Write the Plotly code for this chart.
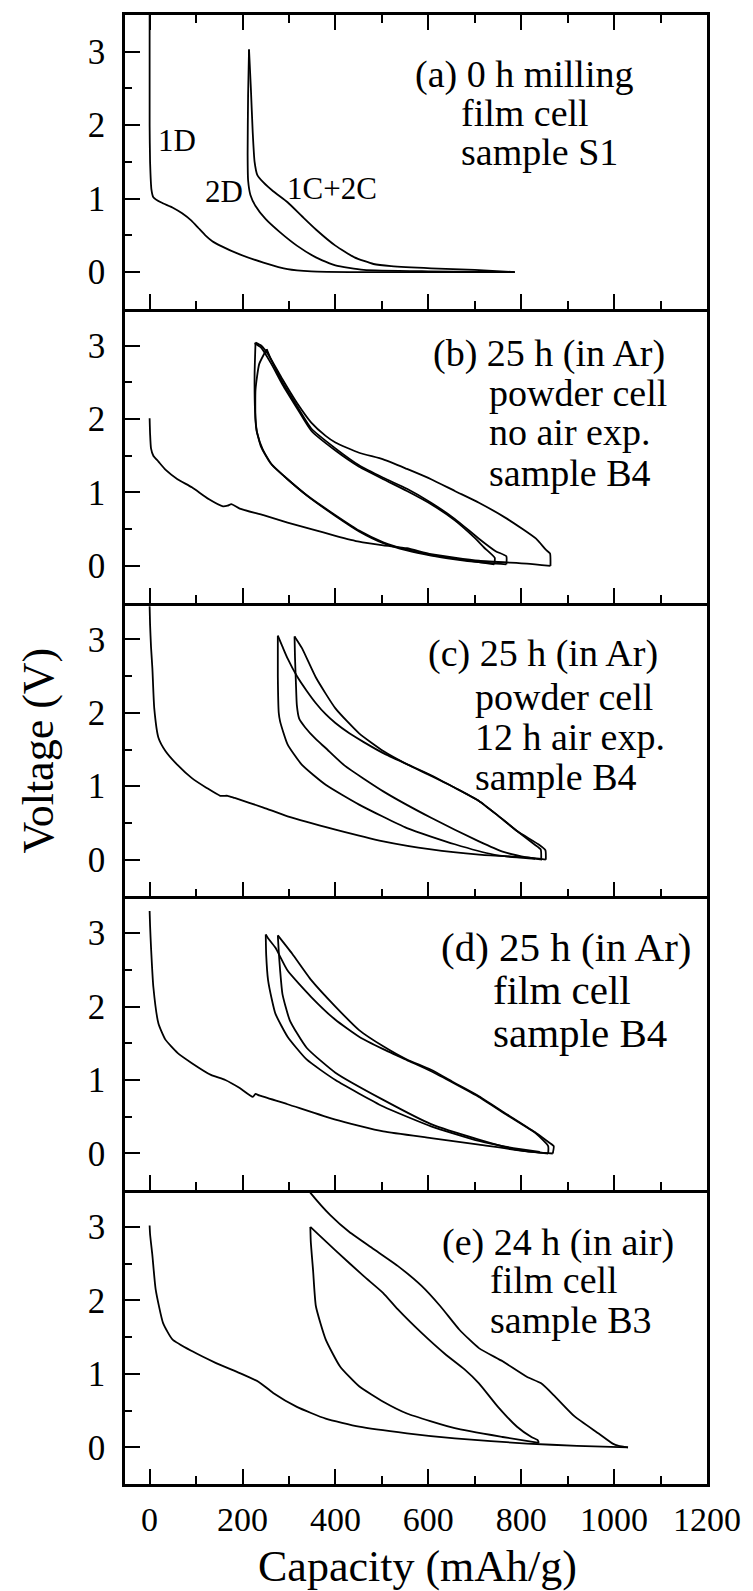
import plotly.graph_objects as go

# ---------------- data (capacity mAh/g, voltage V) ----------------
# panel (a)
a_1D_cap = [0, 0, 1, 4, 8, 24, 49, 70, 90, 105, 120, 135, 152, 194, 245, 297, 348, 450, 600, 786]
a_1D_v = [3.6, 2.0, 1.5, 1.12, 1.02, 0.95, 0.88, 0.8, 0.7, 0.6, 0.5, 0.42, 0.36, 0.24, 0.13, 0.04, 0.01, 0.0, 0.0, 0.0]
a_1C_cap = [786, 700, 606, 520, 482, 441, 400, 358, 328, 297, 266, 245, 232, 226, 222, 218, 214]
a_1C_v = [0.0, 0.03, 0.05, 0.08, 0.11, 0.2, 0.36, 0.58, 0.76, 0.95, 1.1, 1.22, 1.32, 1.5, 1.9, 2.5, 3.03]
a_2D_cap = [214, 212, 211, 212, 217, 228, 250, 281, 317, 358, 400, 461, 600, 786]
a_2D_v = [3.03, 2.4, 1.6, 1.25, 1.05, 0.9, 0.72, 0.54, 0.36, 0.2, 0.09, 0.03, 0.01, 0.0]

# panel (b)
b_1D_cap = [0, 1, 3, 8, 19, 34, 60, 91, 127, 158, 168, 176, 194, 245, 297, 348, 400, 451, 503, 554, 606, 709, 812, 863]
b_1D_v = [2.01, 1.8, 1.6, 1.5, 1.42, 1.31, 1.18, 1.07, 0.91, 0.81, 0.82, 0.84, 0.78, 0.69, 0.59, 0.5, 0.41, 0.33, 0.28, 0.24, 0.16, 0.07, 0.03, 0.0]
b_1C_cap = [863, 862, 853, 832, 770, 709, 657, 606, 554, 503, 451, 400, 379, 348, 317, 286, 255, 240, 228]
b_1C_v = [0.0, 0.17, 0.22, 0.37, 0.64, 0.86, 1.02, 1.18, 1.32, 1.45, 1.54, 1.68, 1.77, 1.95, 2.22, 2.54, 2.88, 3.0, 3.04]
b_2D_cap = [228, 226, 227, 230, 240, 260, 290, 340, 400, 451, 503, 554, 606, 657, 709, 768]
b_2D_v = [3.04, 2.6, 2.1, 1.85, 1.62, 1.4, 1.22, 0.95, 0.68, 0.47, 0.31, 0.21, 0.14, 0.09, 0.05, 0.02]
b_2C_cap = [768, 768, 745, 709, 657, 606, 554, 503, 451, 400, 348, 317, 286, 262, 252]
b_2C_v = [0.02, 0.13, 0.2, 0.37, 0.64, 0.86, 1.05, 1.2, 1.37, 1.6, 1.87, 2.18, 2.5, 2.8, 2.95]
b_3D_cap = [252, 236, 228, 228, 232, 244, 264, 295, 345, 400, 451, 503, 554, 606, 657, 709, 742]
b_3D_v = [2.95, 2.75, 2.4, 2.0, 1.8, 1.58, 1.37, 1.19, 0.93, 0.69, 0.48, 0.32, 0.22, 0.15, 0.1, 0.05, 0.02]
b_3C_cap = [742, 743, 720, 700, 657, 606, 554, 503, 451, 400, 348, 317, 286, 262, 240, 226]
b_3C_v = [0.02, 0.11, 0.25, 0.38, 0.62, 0.84, 1.02, 1.18, 1.35, 1.57, 1.84, 2.15, 2.47, 2.75, 2.97, 3.03]

# panel (c)
c_1D_cap = [0, 1, 3, 6, 10, 19, 34, 60, 91, 122, 152, 168, 183, 245, 297, 400, 503, 606, 709, 812, 853]
c_1D_v = [3.45, 3.2, 2.9, 2.6, 2.06, 1.66, 1.48, 1.29, 1.11, 0.98, 0.87, 0.87, 0.84, 0.71, 0.59, 0.41, 0.25, 0.14, 0.07, 0.03, 0.0]
c_1C_cap = [853, 852, 837, 791, 750, 709, 657, 606, 554, 503, 451, 400, 358, 328, 312]
c_1C_v = [0.0, 0.13, 0.21, 0.39, 0.6, 0.8, 0.98, 1.14, 1.3, 1.48, 1.72, 2.06, 2.48, 2.88, 3.04]
c_2D_cap = [312, 313, 315, 317, 322, 335, 358, 379, 420, 503, 606, 709, 760, 812, 845]
c_2D_v = [3.04, 2.75, 2.4, 2.1, 1.92, 1.8, 1.64, 1.52, 1.28, 0.93, 0.57, 0.25, 0.11, 0.03, 0.0]
c_2C_cap = [843, 842, 828, 791, 750, 709, 657, 606, 554, 503, 461, 430, 400, 379, 358, 338, 317, 297, 286, 276]
c_2C_v = [0.0, 0.14, 0.21, 0.39, 0.6, 0.8, 0.98, 1.15, 1.3, 1.45, 1.6, 1.72, 1.86, 1.98, 2.13, 2.3, 2.5, 2.74, 2.9, 3.05]
c_3D_cap = [276, 276, 278, 281, 297, 328, 379, 451, 554, 657, 740, 791, 830]
c_3D_v = [3.05, 2.5, 2.0, 1.88, 1.57, 1.29, 1.02, 0.75, 0.43, 0.21, 0.07, 0.03, 0.01]

# panel (d)
d_1D_cap = [0, 1, 3, 8, 19, 34, 60, 91, 132, 163, 194, 222, 228, 236, 297, 400, 503, 606, 709, 812, 868]
d_1D_v = [3.3, 3.1, 2.81, 2.27, 1.77, 1.55, 1.37, 1.23, 1.07, 1.0, 0.89, 0.77, 0.81, 0.79, 0.67, 0.46, 0.3, 0.21, 0.12, 0.03, 0.0]
d_1C_cap = [868, 870, 860, 832, 770, 709, 657, 606, 554, 503, 451, 400, 348, 307, 276]
d_1C_v = [0.0, 0.1, 0.15, 0.28, 0.53, 0.78, 0.96, 1.14, 1.28, 1.46, 1.68, 2.0, 2.36, 2.72, 2.97]
d_2D_cap = [276, 278, 281, 286, 302, 338, 400, 503, 606, 709, 791, 858]
d_2D_v = [2.97, 2.75, 2.49, 2.17, 1.81, 1.44, 1.1, 0.73, 0.4, 0.19, 0.05, 0.0]
d_2C_cap = [858, 858, 832, 770, 709, 657, 606, 554, 503, 451, 400, 348, 297, 271, 255, 250]
d_2C_v = [0.0, 0.1, 0.27, 0.52, 0.77, 0.95, 1.12, 1.27, 1.42, 1.59, 1.82, 2.13, 2.49, 2.8, 2.93, 2.98]
d_3D_cap = [250, 251, 255, 263, 271, 297, 338, 400, 503, 606, 709, 760, 840]
d_3D_v = [2.98, 2.7, 2.36, 2.1, 1.9, 1.59, 1.28, 1.0, 0.64, 0.37, 0.17, 0.1, 0.02]

# panel (e)
e_1D_cap = [0, 1, 6, 13, 29, 49, 91, 142, 194, 235, 266, 317, 379, 451, 554, 657, 812, 920, 1030]
e_1D_v = [3.02, 2.9, 2.61, 2.15, 1.69, 1.47, 1.31, 1.15, 1.01, 0.89, 0.74, 0.55, 0.39, 0.28, 0.19, 0.12, 0.05, 0.02, 0.0]
e_1C_cap = [1030, 1010, 997, 966, 915, 873, 843, 812, 760, 709, 667, 626, 585, 534, 482, 430, 389, 348, 330]
e_1C_v = [0.0, 0.02, 0.05, 0.19, 0.42, 0.69, 0.87, 0.96, 1.17, 1.35, 1.6, 1.92, 2.2, 2.47, 2.7, 2.93, 3.16, 3.45, 3.6]
e_2D_cap = [346, 347, 352, 358, 379, 410, 451, 503, 554, 657, 760, 838]
e_2D_v = [3.0, 2.8, 2.4, 1.92, 1.47, 1.1, 0.83, 0.62, 0.46, 0.26, 0.14, 0.06]
e_2C_cap = [838, 835, 822, 791, 750, 709, 678, 636, 585, 534, 503, 461, 400, 346]
e_2C_v = [0.06, 0.1, 0.14, 0.28, 0.55, 0.87, 1.06, 1.27, 1.56, 1.88, 2.1, 2.33, 2.68, 3.0]

x_tick_vals = [0, 200, 400, 600, 800, 1000, 1200]
x_tick_text = ["0", "200", "400", "600", "800", "1000", "1200"]
y_tick_vals = [0, 1, 2, 3]
y_tick_text = ["0", "1", "2", "3"]

panel_labels = {
    "a": ["(a) 0 h milling", "film cell", "sample S1"],
    "b": ["(b) 25 h (in Ar)", "powder cell", "no air exp.", "sample B4"],
    "c": ["(c) 25 h (in Ar)", "powder cell", "12 h air exp.", "sample B4"],
    "d": ["(d) 25 h (in Ar)", "film cell", "sample B4"],
    "e": ["(e) 24 h (in air)", "film cell", "sample B3"],
}
curve_labels = ["1D", "2D", "1C+2C"]
x_title = "Capacity (mAh/g)"
y_title = "Voltage (V)"

panels = [
    [(a_1D_cap, a_1D_v), (a_1C_cap, a_1C_v), (a_2D_cap, a_2D_v)],
    [(b_1D_cap, b_1D_v), (b_1C_cap, b_1C_v), (b_2D_cap, b_2D_v), (b_2C_cap, b_2C_v), (b_3D_cap, b_3D_v), (b_3C_cap, b_3C_v)],
    [(c_1D_cap, c_1D_v), (c_1C_cap, c_1C_v), (c_2D_cap, c_2D_v), (c_2C_cap, c_2C_v), (c_3D_cap, c_3D_v)],
    [(d_1D_cap, d_1D_v), (d_1C_cap, d_1C_v), (d_2D_cap, d_2D_v), (d_2C_cap, d_2C_v), (d_3D_cap, d_3D_v)],
    [(e_1D_cap, e_1D_v), (e_1C_cap, e_1C_v), (e_2D_cap, e_2D_v), (e_2C_cap, e_2C_v)],
]

# ---------------- figure ----------------
W, H = 753, 1591
L, R, T, B = 125, 43, 15, 107
PW, PH = W - L - R, H - T - B
FONT = "Liberation Serif, Times New Roman, serif"
DOMAINS = [[0.8, 1.0], [0.6, 0.8], [0.4, 0.6], [0.2, 0.4], [0.0, 0.2]]

def px(xp, yp):
    return (xp - L) / PW, (H - B - yp) / PH

fig = go.Figure()
for i, segs in enumerate(panels):
    n = "" if i == 0 else str(i + 1)
    for cap, v in segs:
        fig.add_trace(go.Scatter(x=cap, y=v, mode="lines", xaxis="x" + n, yaxis="y" + n,
                                 line=dict(color="black", width=1.8, shape="spline", smoothing=0.5),
                                 showlegend=False, hoverinfo="skip"))

layout = dict(width=W, height=H, margin=dict(l=L, r=R, t=T, b=B),
              paper_bgcolor="white", plot_bgcolor="rgba(0,0,0,0)", showlegend=False,
              font=dict(family=FONT, color="black"))
for i in range(5):
    n = "" if i == 0 else str(i + 1)
    layout["xaxis" + n] = dict(
        domain=[0, 1], anchor="y" + n, range=[-53, 1200],
        tickmode="array", tickvals=x_tick_vals, ticktext=x_tick_text,
        showticklabels=(i == 4), ticks="inside", ticklen=15, tickwidth=2, tickcolor="black",
        minor=dict(ticks="inside", ticklen=8, tickwidth=2, tickcolor="black", dtick=100, tick0=0),
        showline=True, linecolor="black", linewidth=2.5, mirror=("ticks" if i == 0 else False),
        showgrid=False, zeroline=False, tickfont=dict(size=34, family=FONT),
        ticklabelstandoff=3,
    )
    layout["yaxis" + n] = dict(
        domain=DOMAINS[i], anchor="x" + n, range=[-0.5, 3.5],
        tickmode="array", tickvals=y_tick_vals, ticktext=y_tick_text,
        ticks="inside", ticklen=15, tickwidth=2, tickcolor="black",
        minor=dict(ticks="inside", ticklen=7, tickwidth=2, tickcolor="black", dtick=0.5, tick0=0),
        showline=True, linecolor="black", linewidth=2.5, mirror=True,
        showgrid=False, zeroline=False, tickfont=dict(size=35, family=FONT),
        ticklabelstandoff=10,
    )
fig.update_layout(**layout)

ann = []
def add_text(text, xp, yp, size, xanchor="left", angle=0):
    x, y = px(xp, yp)
    ann.append(dict(text=text, x=x, y=y, xref="paper", yref="paper", xanchor=xanchor,
                    yanchor="middle", showarrow=False, textangle=angle,
                    font=dict(size=size, family=FONT, color="black")))

label_pos = {
    "a": (38, [(414, 75), (461, 113), (461, 152)]),
    "b": (38, [(433, 353), (489, 393), (489, 432), (489, 473)]),
    "c": (38, [(428, 653), (475, 697), (475, 737), (475, 777)]),
    "d": (41, [(441, 947), (493, 990), (493, 1033)]),
    "e": (38, [(442, 1242), (490, 1280), (490, 1320)]),
}
for k, lines in panel_labels.items():
    size, pos = label_pos[k]
    for t, (xp, yp) in zip(lines, pos):
        add_text(t, xp, yp, size)

for t, (xp, yp) in zip(curve_labels, [(177, 140), (225, 192), (333, 188)]):
    add_text(t, xp, yp, 31, xanchor="center")

add_text(x_title, 419, 1566, 44, xanchor="center")
add_text(y_title, 38, 750, 44, xanchor="center", angle=-90)
fig.update_layout(annotations=ann)

fig.write_html("out.html")
